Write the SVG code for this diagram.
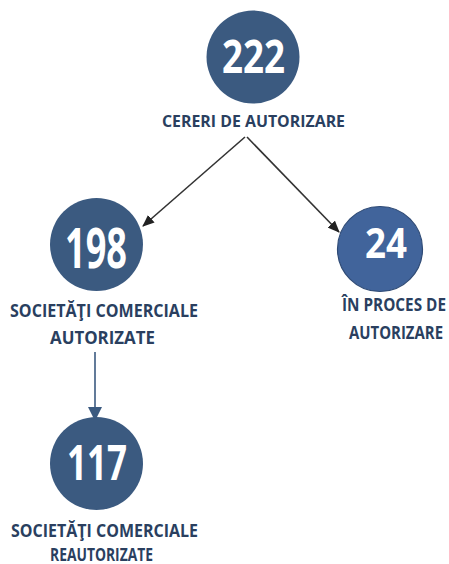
<svg xmlns="http://www.w3.org/2000/svg" width="449" height="564" viewBox="0 0 449 564">
<style>
.c{fill:#3b5a80}
.n{font-family:"Open Sans","Noto Sans",sans-serif;font-weight:bold;fill:#ffffff;text-anchor:start}
.l{font-family:"Open Sans","Noto Sans",sans-serif;font-weight:bold;fill:#2a3f5f;text-anchor:start}
</style>
<defs>
<marker id="ab" markerWidth="12" markerHeight="10" refX="11" refY="5" orient="auto" markerUnits="userSpaceOnUse">
<path d="M0,0 L12,5 L0,10 Z" fill="#222"/>
</marker>
<marker id="ablue" markerWidth="14" markerHeight="14" refX="13" refY="7" orient="auto" markerUnits="userSpaceOnUse">
<path d="M0,0 L14,7 L0,14 Z" fill="#3b5a80"/>
</marker>
</defs>
<rect width="449" height="564" fill="#ffffff"/>
<g id="connectors">
<line x1="245" y1="137" x2="143" y2="226" stroke="#333" stroke-width="1.6" marker-end="url(#ab)"/>
<line x1="247" y1="137" x2="339" y2="232" stroke="#333" stroke-width="1.6" marker-end="url(#ab)"/>
<line x1="95" y1="352" x2="95" y2="420" stroke="#3b5a80" stroke-width="1.6" marker-end="url(#ablue)"/>
</g>
<g id="n222">
<circle class="c" cx="253" cy="57" r="46.5"/>
<text class="n" x="222" y="73" font-size="46" textLength="63" lengthAdjust="spacingAndGlyphs">222</text>
<text class="l" x="162" y="127" font-size="16.5" textLength="183" lengthAdjust="spacingAndGlyphs">CERERI DE AUTORIZARE</text>
</g>
<g id="n198">
<circle class="c" cx="96.5" cy="244.5" r="46.5"/>
<text class="n" x="65" y="268" font-size="56" textLength="62" lengthAdjust="spacingAndGlyphs">198</text>
<text class="l" x="10" y="317" font-size="17" textLength="188" lengthAdjust="spacingAndGlyphs">SOCIETĂŢI COMERCIALE</text>
<text class="l" x="50" y="344" font-size="17" textLength="105" lengthAdjust="spacingAndGlyphs">AUTORIZATE</text>
</g>
<g id="n24">
<circle cx="380" cy="249" r="42.5" fill="#41649b" stroke="#2e4a75" stroke-width="1.2"/>
<text class="n" x="365" y="258" font-size="42" textLength="42" lengthAdjust="spacingAndGlyphs">24</text>
<text class="l" x="342" y="311" font-size="17.5" textLength="104" lengthAdjust="spacingAndGlyphs">ÎN PROCES DE</text>
<text class="l" x="349" y="339" font-size="17.5" textLength="94" lengthAdjust="spacingAndGlyphs">AUTORIZARE</text>
</g>
<g id="n117">
<circle class="c" cx="96.5" cy="463.5" r="46.5"/>
<text class="n" x="67" y="480" font-size="49" textLength="60" lengthAdjust="spacingAndGlyphs">117</text>
<text class="l" x="11" y="537" font-size="17" textLength="187" lengthAdjust="spacingAndGlyphs">SOCIETĂŢI COMERCIALE</text>
<text class="l" x="50" y="561" font-size="17" textLength="103" lengthAdjust="spacingAndGlyphs">REAUTORIZATE</text>
</g>
</svg>
